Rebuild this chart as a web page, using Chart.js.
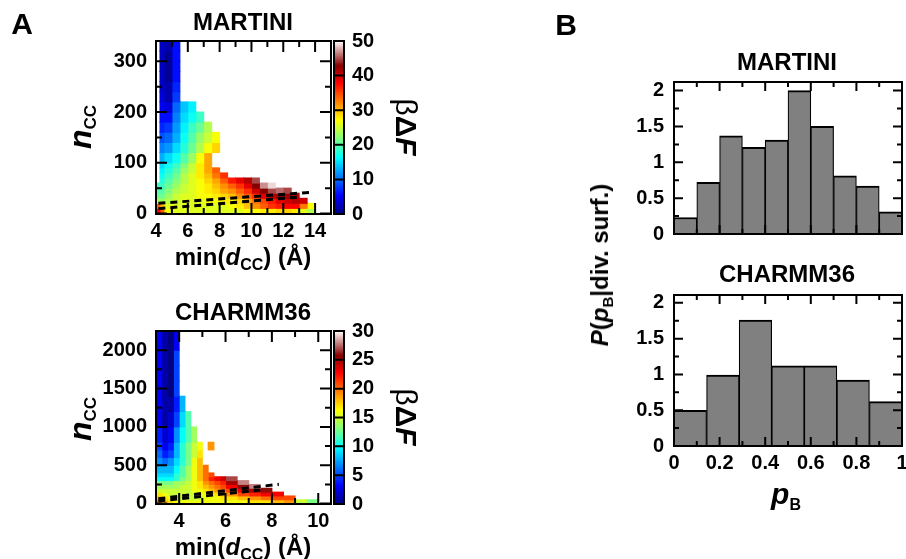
<!DOCTYPE html>
<html>
<head>
<meta charset="utf-8">
<script src="https://cdn.jsdelivr.net/npm/chart.js@4.4.1/dist/chart.umd.min.js"></script>
<style>
  body { margin: 0; background: #fff; }
  #fig { position: relative; width: 906px; height: 559px; overflow: hidden; font-family: "Liberation Sans", Arial, sans-serif; font-weight: bold; color: #000; }
  #fig canvas { position: absolute; left: 0; top: 0; }
  .lbl { position: absolute; white-space: nowrap; line-height: 1; transform: translate(-50%, -50%); }
  .up { transform: translate(-50%, -50%) rotate(-90deg); }
  .down { transform: translate(-50%, -50%) rotate(90deg); }
  .sub { position: relative; }
</style>
</head>
<body>
<div id="fig">
  <canvas id="martiniMap" width="906" height="559"></canvas>
  <canvas id="martiniBar" width="906" height="559"></canvas>
  <canvas id="charmmMap" width="906" height="559"></canvas>
  <canvas id="charmmBar" width="906" height="559"></canvas>
  <canvas id="martiniHist" width="930" height="559"></canvas>
  <canvas id="charmmHist" width="930" height="559"></canvas>

  <div class="lbl" style="left:22px;top:24px;font-size:30px">A</div>
  <div class="lbl" style="left:566px;top:25px;font-size:30px">B</div>

  <div class="lbl" style="left:243px;top:22px;font-size:24px">MARTINI</div>
  <div class="lbl" style="left:243px;top:312px;font-size:24px">CHARMM36</div>
  <div class="lbl" style="left:787px;top:62px;font-size:24px">MARTINI</div>
  <div class="lbl" style="left:787px;top:274px;font-size:24px">CHARMM36</div>

  <div class="lbl up" style="left:80px;top:127px;font-size:32px"><i>n</i><span class="sub" style="font-size:17px;top:5px">CC</span></div>
  <div class="lbl up" style="left:80px;top:419px;font-size:32px"><i>n</i><span class="sub" style="font-size:17px;top:5px">CC</span></div>
  <div class="lbl" style="left:243px;top:257px;font-size:24px">min(<i>d</i><span class="sub" style="font-size:16px;top:5px">CC</span>) (Å)</div>
  <div class="lbl" style="left:243px;top:547px;font-size:24px">min(<i>d</i><span class="sub" style="font-size:16px;top:5px">CC</span>) (Å)</div>
  <div class="lbl down" style="left:406px;top:127px;font-size:30px"><span style="font-weight:normal">β</span>Δ<i>F</i></div>
  <div class="lbl down" style="left:406px;top:417px;font-size:30px"><span style="font-weight:normal">β</span>Δ<i>F</i></div>

  <div class="lbl up" style="left:600px;top:265px;font-size:24px"><i>P</i>(<i>p</i><span class="sub" style="font-size:15px;top:5px">B</span>|div. surf.)</div>
  <div class="lbl" style="left:786px;top:494px;font-size:30px"><i>p</i><span class="sub" style="font-size:16px;top:6px">B</span></div>
</div>

<script>
const _ = null;

// A, MARTINI: beta*dF per cell, bin edges in min(d_CC) and n_CC, rows from n_CC = 0 upward
const martiniD = [4, 4.25, 4.5, 5, 5.5, 6, 6.5, 7, 7.5, 8, 8.5, 9, 9.5, 10, 10.5, 11, 11.5, 12, 12.5, 13, 13.5, 14];
const martiniN = [0, 10, 20, 30, 40, 50, 60, 70, 80, 90, 100, 120, 140, 160, 180, 200, 220, 240, 260, 280, 300, 320, 340];
const martiniF = [
  [38, 34, 27, 26, 26, 26, 26, 26, 26, 26, 26, 26, 27, 27, 28, 28, 29, 29, 28, 26, 24],
  [34, 30, 26, 26, 26, 26, 26, 26, 26, 26, 27, 28, 30, 32, 34, 36, 37, 38, 38, 33, 27],
  [24, 23, 24, 25, 26, 26, 26, 27, 27, 28, 28, 29, 31, 33, 35, 37, 39, 40, 41, 40],
  [21, 21, 23, 25, 26, 26, 27, 27, 28, 29, 30, 32, 34, 36, 39, 41, 42, 42, 41],
  [20, 20, 22, 24, 25, 26, 27, 28, 29, 31, 32, 34, 36, 40, 43, 45, 46, 45],
  [19, 19, 21, 23, 25, 26, 27, 28, 30, 32, 34, 36, 39, 43, 47, 49],
  [_, 18, 20, 22, 24, 26, 27, 29, 31, 34, 37, 39, 41, 45],
  [_, 17, 19, 21, 24, 26, 28, 30, 33, 36],
  [_, 16, 18, 20, 23, 25, 28, 31, 34],
  [_, 15, 17, 19, 22, 25, 28, 31],
  [_, 13, 15, 17, 20, 23, 27, 31],
  [_, 11, 12, 15, 18, 21, 24, 27, 29],
  [_, 9, 10, 13, 17, 20, 23, 25, 27],
  [_, 7, 8, 12, 16, 19, 21, 24],
  [_, 6, 6, 11, 15, 17, 19],
  [_, 5, 4, 10, 14, 16],
  [_, 4, 2, 8],
  [_, 3, 2, 7],
  [_, 3, 1, 6],
  [_, 3, 1, 6],
  [_, 3, 1, 6],
  [_, 3, 2, 6]
];
const martiniUpperD = [4.15, 13.9];
const martiniUpperN = [20, 42];
const martiniLowerD = [4.15, 12.85];
const martiniLowerN = [9.5, 32];
const martiniCbTicks = [0, 10, 20, 30, 40, 50];

// A, CHARMM36
const charmmD = [3, 3.25, 3.5, 3.75, 4, 4.25, 4.5, 4.75, 5, 5.25, 5.5, 5.75, 6, 6.5, 7, 7.5, 8, 8.5, 9, 9.5, 10];
const charmmN = [0, 50, 100, 150, 200, 250, 300, 350, 400, 500, 600, 700, 800, 1000, 1200, 1400, 1600, 1800, 2000, 2250];
const charmmF = [
  [20, 18, 17, 16, 16, 16, 16, 16, 16, 16, 16, 16, 16, 16, 17, 17, 18, 19, 15, 13],
  [18, 17, 16, 16, 15, 15, 15, 15, 16, 16, 16, 17, 17, 18, 19, 20, 21, 21],
  [17, 16, 15, 15, 15, 15, 15, 16, 16, 17, 17, 18, 19, 21, 22, 23, 23],
  [15, 15, 15, 15, 15, 15, 16, 16, 17, 18, 19, 20, 21, 23, 25, 26],
  [14, 14, 14, 14, 15, 15, 16, 17, 18, 19, 20, 21, 23, 26, 28],
  [13, 13, 13, 14, 14, 15, 16, 17, 19, 20, 21, 22, 25, 28],
  [10, 10, 10, 11, 13, 14, 16, 18, 20, 22, 23, 24, 27],
  [9, 9, 9, 11, 12, 14, 16, 18, 20, 21],
  [8, 8, 8, 10, 12, 14, 16, 18, 20],
  [7, 6, 7, 9, 11, 13, 16, 18],
  [6, 4, 5, 8, 11, 13, 15, 17],
  [5, 3, 4, 8, 11, 13, 15, 16, _, 19],
  [4, 2, 3, 7, 10, 12, 14],
  [3, 1, 2, 5, 9, 12],
  [3, 1, 1, 4, 8],
  [3, 1, 0, 5],
  [3, 1, 0, 5],
  [3, 1, 0, 5],
  [3, 1, 0, 3]
];
const charmmUpperD = [3.1, 8.3];
const charmmUpperN = [64, 252];
const charmmLowerD = [3.1, 7.5];
const charmmLowerN = [34, 177];
const charmmCbTicks = [0, 5, 10, 15, 20, 25, 30];

// B, histograms of p_B on the dividing surface
const martiniPB = [0.23, 0.72, 1.37, 1.21, 1.31, 2.0, 1.5, 0.81, 0.67, 0.31];
const charmmPB = [0.5, 0.99, 1.76, 1.12, 1.12, 0.92, 0.62];
const pbTicks = [0, 0.2, 0.4, 0.6, 0.8, 1];
const pbMinor = [0.1, 0.3, 0.5, 0.7, 0.9];
const probTicks = [0, 0.5, 1, 1.5, 2];
const probMinor = [0.25, 0.75, 1.25, 1.75];

Chart.defaults.font.family = '"Liberation Sans", Arial, sans-serif';
Chart.defaults.font.size = 20;
Chart.defaults.font.weight = 'bold';
Chart.defaults.color = '#000';

// jet-like palette that runs into dark red and then white
const stops = [[0, 0, 0, 128], [0.11, 0, 0, 255], [0.33, 0, 255, 255], [0.545, 255, 255, 0], [0.76, 255, 0, 0], [0.86, 135, 0, 0], [1, 255, 250, 250]];
function colour(f) {
  f = Math.max(0, Math.min(1, f));
  for (let i = 1; i < stops.length; i++) {
    if (f <= stops[i][0]) {
      const a = stops[i - 1], b = stops[i];
      const t = (f - a[0]) / (b[0] - a[0]);
      const c = [1, 2, 3].map(k => Math.round(a[k] + t * (b[k] - a[k])));
      return 'rgb(' + c.join(',') + ')';
    }
  }
  return 'rgb(255,250,250)';
}

// box with inward ticks on all four sides
const frame = {
  id: 'frame',
  afterDatasetsDraw(chart, args, o) {
    const { ctx, chartArea: a } = chart;
    const sx = chart.scales.x, sy = chart.scales.y;
    ctx.save();
    ctx.strokeStyle = '#000';
    ctx.lineWidth = 2;
    ctx.beginPath();
    const mark = (vals, len, horiz) => {
      (vals || []).forEach(v => {
        if (horiz) {
          const p = sx.getPixelForValue(v);
          ctx.moveTo(p, a.bottom); ctx.lineTo(p, a.bottom - len);
          ctx.moveTo(p, a.top); ctx.lineTo(p, a.top + len);
        } else {
          const p = sy.getPixelForValue(v);
          ctx.moveTo(a.left, p); ctx.lineTo(a.left + len, p);
          ctx.moveTo(a.right, p); ctx.lineTo(a.right - len, p);
        }
      });
    };
    mark(o.xMajor, o.major, true);
    mark(o.xMinor, o.minor, true);
    mark(o.yMajor, o.major, false);
    mark(o.yMinor, o.minor, false);
    ctx.stroke();
    ctx.strokeRect(a.left, a.top, a.right - a.left, a.bottom - a.top);
    ctx.restore();
  }
};

function fixTicks(list) {
  return s => { s.ticks = list.map(v => ({ value: v })); };
}

function heatSets(dEdges, nEdges, rows, vmax) {
  let minW = Infinity;
  for (let c = 0; c < dEdges.length - 1; c++) minW = Math.min(minW, dEdges[c + 1] - dEdges[c]);
  const sets = [];
  for (let c = 0; c < dEdges.length - 1; c++) {
    const cells = [];
    rows.forEach((row, r) => {
      const v = row[c];
      if (v === undefined || v === null) return;
      cells.push({ x: (dEdges[c] + dEdges[c + 1]) / 2, y: [nEdges[r], nEdges[r + 1]], v: v });
    });
    if (!cells.length) continue;
    sets.push({
      type: 'bar',
      data: cells,
      grouped: false,
      categoryPercentage: 1,
      barPercentage: (dEdges[c + 1] - dEdges[c]) / minW,
      inflateAmount: 0.5,
      borderWidth: 0,
      backgroundColor: ctx => ctx.raw ? colour(ctx.raw.v / vmax) : '#000',
      order: 2
    });
  }
  return sets;
}

function dashed(dArr, nArr) {
  return {
    type: 'line',
    data: dArr.map((d, i) => ({ x: d, y: nArr[i] })),
    borderColor: '#000',
    borderWidth: 3,
    borderDash: [7, 5],
    pointRadius: 0,
    fill: false,
    order: 0
  };
}

function heatmap(id, p) {
  const vmax = p.cb[p.cb.length - 1];
  new Chart(document.getElementById(id), {
    type: 'bar',
    data: {
      datasets: heatSets(p.d, p.n, p.f, vmax).concat([
        dashed(p.upD, p.upN), dashed(p.loD, p.loN)
      ])
    },
    plugins: [frame],
    options: {
      responsive: false,
      animation: false,
      events: [],
      layout: { padding: { left: p.box[0] - 60, right: 906 - p.box[1], top: p.box[2], bottom: 559 - p.box[3] - 40 } },
      plugins: {
        legend: { display: false },
        tooltip: { enabled: false },
        frame: { xMajor: p.xt, xMinor: p.xm, yMajor: p.yt, yMinor: p.ym, major: 11, minor: 6 }
      },
      scales: {
        x: {
          type: 'linear', min: p.xr[0], max: p.xr[1], offset: false,
          grid: { display: false, drawTicks: false, offset: false }, border: { display: false },
          afterBuildTicks: fixTicks(p.xt),
          afterFit: s => { s.height = 40; },
          ticks: { padding: 5, autoSkip: false, maxRotation: 0, callback: v => String(v) }
        },
        y: {
          type: 'linear', min: p.yr[0], max: p.yr[1],
          grid: { display: false, drawTicks: false }, border: { display: false },
          afterBuildTicks: fixTicks(p.yt),
          afterFit: s => { s.width = 60; },
          ticks: { padding: 9, autoSkip: false, callback: v => String(v) }
        }
      }
    }
  });
}

function colourbar(id, ticks, box) {
  const vmax = ticks[ticks.length - 1];
  const cells = [];
  for (let k = 0; k < 120; k++) {
    cells.push({ x: 'cb', y: [vmax * k / 120, vmax * (k + 1) / 120], v: vmax * (k + 0.5) / 120 });
  }
  new Chart(document.getElementById(id), {
    type: 'bar',
    data: {
      labels: ['cb'],
      datasets: [{
        data: cells, categoryPercentage: 1, barPercentage: 1, inflateAmount: 0.5, borderWidth: 0,
        backgroundColor: ctx => ctx.raw ? colour(ctx.raw.v / vmax) : '#000'
      }]
    },
    plugins: [frame],
    options: {
      responsive: false,
      animation: false,
      events: [],
      layout: { padding: { left: box[0], right: 906 - box[1] - 40, top: box[2], bottom: 559 - box[3] } },
      plugins: {
        legend: { display: false },
        tooltip: { enabled: false },
        frame: { yMajor: ticks.slice(1, -1), major: box[1] - box[0] }
      },
      scales: {
        x: { display: false },
        y: {
          position: 'right', min: 0, max: vmax,
          grid: { display: false, drawTicks: false }, border: { display: false },
          afterBuildTicks: fixTicks(ticks),
          afterFit: s => { s.width = 40; },
          ticks: { padding: 8, autoSkip: false, callback: v => String(v) }
        }
      }
    }
  });
}

function histogram(id, vals, box, yMax, showX) {
  const canvas = document.getElementById(id);
  new Chart(canvas, {
    type: 'bar',
    data: {
      datasets: [{
        data: vals.map((v, i) => ({ x: (i + 0.5) / vals.length, y: v })),
        grouped: false,
        categoryPercentage: 1,
        barPercentage: 1,
        backgroundColor: '#808080',
        borderColor: '#000',
        borderWidth: { top: 2, left: 1.2, right: 1.2, bottom: 0 },
        borderSkipped: false
      }]
    },
    plugins: [frame],
    options: {
      responsive: false,
      animation: false,
      events: [],
      layout: { padding: { left: box[0] - 60, right: canvas.width - box[1], top: box[2], bottom: 559 - box[3] - 40 } },
      plugins: {
        legend: { display: false },
        tooltip: { enabled: false },
        frame: { xMajor: pbTicks, xMinor: pbMinor, yMajor: probTicks, yMinor: probMinor, major: 9, minor: 5 }
      },
      scales: {
        x: {
          type: 'linear', min: 0, max: 1, offset: false,
          grid: { display: false, drawTicks: false, offset: false }, border: { display: false },
          afterBuildTicks: fixTicks(pbTicks),
          afterFit: s => { s.height = 40; },
          ticks: { display: showX, padding: 5, autoSkip: false, maxRotation: 0, callback: v => String(v) }
        },
        y: {
          min: 0, max: yMax,
          grid: { display: false, drawTicks: false }, border: { display: false },
          afterBuildTicks: fixTicks(probTicks),
          afterFit: s => { s.width = 60; },
          ticks: { padding: 10, autoSkip: false, callback: v => String(v) }
        }
      }
    }
  });
}

heatmap('martiniMap', {
  d: martiniD, n: martiniN, f: martiniF, cb: martiniCbTicks,
  upD: martiniUpperD, upN: martiniUpperN, loD: martiniLowerD, loN: martiniLowerN,
  box: [156, 331, 41, 214], xr: [4, 15], yr: [-1, 340],
  xt: [4, 6, 8, 10, 12, 14], xm: [5, 7, 9, 11, 13],
  yt: [0, 100, 200, 300], ym: [50, 150, 250]
});
colourbar('martiniBar', martiniCbTicks, [334, 344, 41, 214]);

heatmap('charmmMap', {
  d: charmmD, n: charmmN, f: charmmF, cb: charmmCbTicks,
  upD: charmmUpperD, upN: charmmUpperN, loD: charmmLowerD, loN: charmmLowerN,
  box: [156, 331, 331, 504], xr: [3, 10.55], yr: [-5, 2250],
  xt: [4, 6, 8, 10], xm: [5, 7, 9],
  yt: [0, 500, 1000, 1500, 2000], ym: [250, 750, 1250, 1750]
});
colourbar('charmmBar', charmmCbTicks, [334, 344, 331, 504]);

histogram('martiniHist', martiniPB, [674, 902, 82, 234], 2.12, false);
histogram('charmmHist', charmmPB, [674, 902, 295, 446], 2.11, true);
</script>
</body>
</html>
